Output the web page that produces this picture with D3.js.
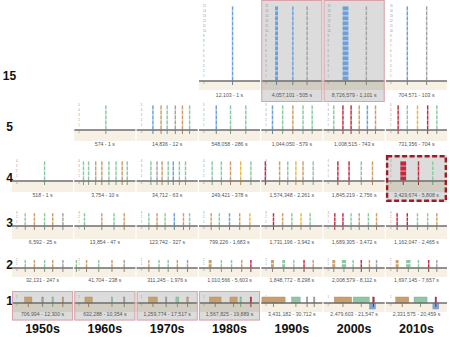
<!DOCTYPE html>
<html><head><meta charset="utf-8">
<script src="https://cdn.jsdelivr.net/npm/d3@7"></script>
<style>body{margin:0;background:#fff}svg{display:block}</style>
</head><body><svg id="c" width="450" height="338"></svg>
<script>
const decades = ["1950s","1960s","1970s","1980s","1990s","2000s","2010s"];
const levels = [15,5,4,3,2,1];

const labels15 = [null,null,null,"12,103 - 1 s","4,057,101 - 505 s","8,726,579 - 1,101 s","704,571 - 103 s"];
const labels5 = [null,"574 - 1 s","14,836 - 12 s","548,058 - 286 s","1,044,050 - 579 s","1,008,515 - 743 s","731,356 - 704 s"];
const labels4 = ["518 - 1 s","3,754 - 10 s","34,712 - 63 s","249,421 - 378 s","1,574,348 - 2,261 s","1,845,219 - 2,756 s","3,429,674 - 5,808 s"];
const labels3 = ["6,592 - 25 s","13,854 - 47 s","123,742 - 327 s","799,226 - 1,683 s","1,731,196 - 3,942 s","1,689,305 - 3,472 s","1,162,047 - 2,465 s"];
const labels2 = ["32,131 - 247 s","41,704 - 238 s","311,245 - 1,976 s","1,010,566 - 5,603 s","1,848,772 - 8,298 s","2,008,579 - 8,112 s","1,697,145 - 7,657 s"];
const labels1 = ["706,994 - 12,300 s","632,288 - 10,354 s","1,259,774 - 17,517 s","1,567,825 - 19,889 s","3,431,182 - 30,712 s","2,479,603 - 21,547 s","2,331,575 - 20,459 s"];

// bars: [position within cell (0-60), weight, colour key]
const bars15 = [null,null,null,
  [[33,1,"b"]],
  [[15,2,"b"],[31,1,"b"],[45,1,"k"]],
  [[21.5,4,"b"],[42,1,"k"]],
  [[21,1,"b"],[40,1,"k"]]];
const bars5 = [null,
  [[31,1,"g"]],
  [[16,1,"b"],[24,1,"t"],[30,1,"g"],[38,1,"k"],[45,1,"t"],[52,1,"g"]],
  [[17,1,"b"],[31,1,"g"],[46,1,"g"]],
  [[11,1,"b"],[21,1,"g"],[31,1,"t"],[41,1,"g"],[50,1,"g"]],
  [[10,1,"g"],[19,1,"r"],[27,1,"r"],[35,1,"t"],[43,1,"b"],[51,1,"t"]],
  [[12,1,"r"],[21,1,"g"],[31,1,"y"],[41,1,"r"],[50,1,"g"]]];
const bars4 = [
  [[32,1,"g"]],
  [[9,1,"g"],[14,1,"g"],[21,1,"t"],[27,1,"t"],[34,1,"g"],[41,1,"g"],[47,1,"t"],[52,1,"g"]],
  [[14,1,"g"],[20,1,"k"],[25,1,"t"],[31,1,"g"],[36,1,"b"],[42,1,"g"],[48,1,"g"]],
  [[13,1,"g"],[22,1,"g"],[31,1,"t"],[41,1,"y"],[51,1,"g"]],
  [[4,1,"r"],[18,1,"t"],[26,1,"g"],[34,1,"y"],[41,1,"t"],[51,1,"g"]],
  [[14,1,"r"],[25,1,"r"],[37,1,"g"],[48,1,"t"]],
  [[17,4,"r"],[32,1,"r"],[46,1,"g"]]];
const bars3 = [
  [[13,1,"g"],[22,1,"t"],[32,1,"g"],[40,1,"t"],[50,1,"k"]],
  [[10,1,"g"],[27,1,"t"],[39,1,"g"],[49,1,"t"]],
  [[12,1,"g"],[20,1,"t"],[28,1,"g"],[37,1,"b"],[46,1,"t"],[52,1,"g"]],
  [[12,1,"t"],[20,1,"g"],[30,1,"b"],[40,1,"t"],[50,1,"y"]],
  [[12,1,"r"],[21,1,"t"],[30,1,"g"],[39,1,"y"],[48,1,"g"]],
  [[11,1,"r"],[19,1,"r"],[27,1,"g"],[35,1,"t"],[44,1,"g"],[52,1,"t"]],
  [[11,1,"r"],[21,1,"r"],[31,1,"g"],[41,1,"g"],[50,1,"t"]]];
const bars2 = [
  [[13,1,"g"],[22,1,"t"],[32,1,"g"],[40,1,"t"],[50,1,"k"]],
  [[2,1,"g"],[12,1,"t"],[24,1,"g"],[37,1,"t"],[49,1,"k"]],
  [[12,1,"t"],[22,1,"g"],[31,1,"g"],[40,1,"t"],[50,1,"k"]],
  [[11,2,"t"],[22,1,"g"],[32,1,"g"],[42,1,"t"],[51,1,"r"]],
  [[11,2,"t"],[22,2,"g"],[32,1,"g"],[42,1,"r"],[51,1,"t"]],
  [[10,2,"t"],[20,3,"g"],[29,1,"g"],[37,1,"r"],[45,1,"t"],[52,1,"k"]],
  [[11,2,"t"],[22,3,"g"],[32,1,"g"],[42,1,"r"],[50,1,"k"]]];
const bars1 = [
  [[16,5,"t"],[30,1,"k"],[40,1,"g"],[50,1,"t"]],
  [[14,5,"t"],[37,1,"g"],[49,1,"k"]],
  [[16,6,"t"],[29,1,"k"],[40,2,"g"],[50,1,"t"]],
  [[16,8,"t"],[34,5,"t"],[41,1,"g"],[51,1,"r"]],
  [[12,16,"t"],[34,6,"g"],[45,1,"k"],[52,1,"k"]],
  [[19,12,"t"],[37,11,"g"],[48,4,"n"],[49,1,"r"]],
  [[16,9,"t"],[34,9,"g"],[49,4,"n"],[49,1,"r"]]];

const highlighted = [["15","1990s"],["15","2000s"],["1","1950s"],["1","1960s"],["1","1970s"],["1","1980s"]];
const featured = [["4","2010s"]];

const labelsByLevel = {15:labels15,5:labels5,4:labels4,3:labels3,2:labels2,1:labels1};
const barsByLevel = {15:bars15,5:bars5,4:bars4,3:bars3,2:bars2,1:bars1};

const colour = d3.scaleOrdinal()
  .domain(["b","g","t","r","k","y","n"])
  .range(["#6f9fd3","#8fc7a3","#c9a06b","#c02a3e","#a3a3a3","#e9b64a","#7fa6d6"]);

// layout (per row)
const geom = {
  15:{base:81, unit:5, band:9, lab:16, rl:-1},
  5:{base:130, unit:5, band:11, lab:16, rl:1},
  4:{base:181, unit:5, band:11, lab:16, rl:1},
  3:{base:226, unit:4.4, band:13, lab:18, rl:1},
  2:{base:268, unit:4.2, band:9, lab:13.5, rl:1},
  1:{base:303, unit:6, band:9, lab:12.5, rl:2}
};

const svg = d3.select("#c");
const x = d3.scaleBand().domain(decades).range([12, 447]).paddingInner(0.02);
const cw = x.bandwidth();

svg.selectAll(".collab").data(decades).enter().append("text")
  .attr("x", d => x(d) + cw/2).attr("y", 333)
  .attr("text-anchor","middle").attr("font-family","Liberation Sans, Arial, sans-serif")
  .attr("font-weight","bold").attr("font-size",12.5).attr("fill","#111").text(d => d);

levels.forEach(level => {
  const g = geom[level];
  const top = g.base - level*g.unit - 6;
  const bottom = g.base + g.lab + 5;
  svg.append("text").attr("x", 9.5).attr("y", g.base + g.rl)
    .attr("text-anchor","middle").attr("font-family","Liberation Sans, Arial, sans-serif")
    .attr("font-weight","bold").attr("font-size",12).attr("fill","#111").text(level);

  const y = d3.scaleLinear().domain([0, level]).range([g.base, g.base - level*g.unit]);

  decades.forEach((dec, i) => {
    const bars = barsByLevel[level][i];
    if (!bars) return;
    const x0 = x(dec);
    const isHi = highlighted.some(h => h[0] == level && h[1] == dec);
    const isFeat = featured.some(h => h[0] == level && h[1] == dec);
    const cell = svg.append("g");
    if (isHi || isFeat) {
      cell.append("rect").attr("x", x0).attr("y", top).attr("width", cw).attr("height", bottom - top)
        .attr("fill","#dcdcdc");
    }
    cell.append("rect").attr("x", x0).attr("y", g.base).attr("width", cw).attr("height", g.band)
      .attr("fill", (isHi||isFeat) ? "#d2cdc1" : "#f6f1e4");

    // tick labels
    const ticks = d3.range(0, level + 1);
    cell.selectAll(".tk").data(ticks).enter().append("text")
      .attr("x", x0 + 4).attr("y", d => y(d) + (d === 0 ? 3 : 1))
      .attr("font-size", 2.6).attr("font-family","Liberation Sans, Arial, sans-serif")
      .attr("fill","#888").text(d => d);

    const bx = d3.scaleLinear().domain([0, 60]).range([x0, x0 + cw]);
    bars.forEach(b => {
      const [p, w, c] = b;
      const bw = Math.max(1.4, w * 1.45);
      const cx = bx(p);
      const col = colour(c);
      if (c === "n") {
        cell.append("rect").attr("x", cx - bw/2).attr("y", g.base).attr("width", bw)
          .attr("height", g.unit).attr("fill", col).attr("stroke", d3.color(col).darker(0.6)).attr("stroke-width",0.4);
        return;
      }
      const units = d3.range(0, level);
      if (level === 1) {
        cell.append("rect").attr("x", cx - bw/2).attr("y", y(1)).attr("width", bw)
          .attr("height", g.unit).attr("fill", col).attr("stroke", d3.color(col).darker(0.5)).attr("stroke-width",0.4);
      } else {
        cell.selectAll(null).data(units).enter().append("rect")
          .attr("x", cx - bw/2).attr("y", k => y(k+1) + 0.4)
          .attr("width", bw).attr("height", g.unit - 1.1).attr("fill", col);
        cell.selectAll(null).data(units).enter().append("rect")
          .attr("x", cx - bw/2).attr("y", k => y(k+1) + g.unit - 0.7)
          .attr("width", bw).attr("height", 0.7).attr("fill", d3.color(col).brighter(0.7));
      }
      cell.append("line").attr("x1", cx).attr("x2", cx).attr("y1", g.base).attr("y2", g.base + 4)
        .attr("stroke", d3.color(col).darker(0.8)).attr("stroke-width", 0.9);
    });

    cell.append("line").attr("x1", x0).attr("x2", x0 + cw).attr("y1", g.base).attr("y2", g.base)
      .attr("stroke","#6e6e6e").attr("stroke-width",1.3);

    cell.append("text").attr("x", x0 + cw/2).attr("y", g.base + g.lab)
      .attr("text-anchor","middle").attr("font-size",5.2).attr("font-family","Liberation Sans, Arial, sans-serif")
      .attr("fill","#555").text(labelsByLevel[level][i]);

    if (isHi) {
      cell.append("rect").attr("x", x0 + 0.5).attr("y", top + 0.5).attr("width", cw - 1).attr("height", bottom - top - 1)
        .attr("fill","none").attr("stroke","#dba2aa").attr("stroke-width",1);
    }
    if (isFeat) {
      cell.append("rect").attr("x", x0 + 1.2).attr("y", top + 1.2).attr("width", cw - 2.4).attr("height", bottom - top - 2.4)
        .attr("fill","none").attr("stroke","#9c1c22").attr("stroke-width",2.4).attr("stroke-dasharray","5,2.5");
    }
  });
});
</script></body></html>
